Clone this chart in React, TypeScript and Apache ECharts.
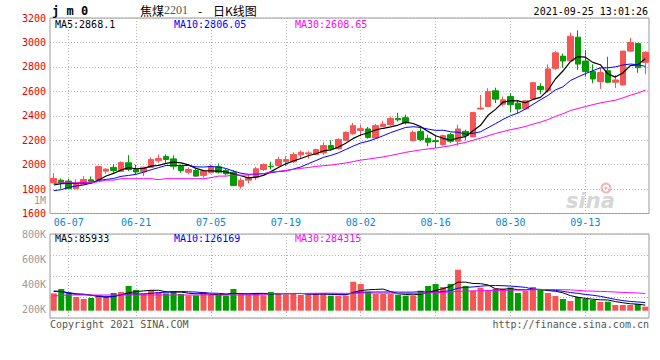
import React, { useEffect, useRef } from 'react';
import * as echarts from 'echarts';

const dates = [
  '06-03', '06-04', '06-07', '06-08', '06-09', '06-10', '06-11', '06-15', '06-16', '06-17',
  '06-18', '06-21', '06-22', '06-23', '06-24', '06-25', '06-28', '06-29', '06-30', '07-01',
  '07-02', '07-05', '07-06', '07-07', '07-08', '07-09', '07-12', '07-13', '07-14', '07-15',
  '07-16', '07-19', '07-20', '07-21', '07-22', '07-23', '07-26', '07-27', '07-28', '07-29',
  '07-30', '08-02', '08-03', '08-04', '08-05', '08-06', '08-09', '08-10', '08-11', '08-12',
  '08-13', '08-16', '08-17', '08-18', '08-19', '08-20', '08-23', '08-24', '08-25', '08-26',
  '08-27', '08-30', '08-31', '09-01', '09-02', '09-03', '09-06', '09-07', '09-08', '09-09',
  '09-10', '09-13', '09-14', '09-15', '09-16', '09-17', '09-22', '09-23', '09-24', '09-27',
];

const opens = [
  1852, 1873, 1865, 1803, 1838, 1876, 1879, 1947, 1977, 1944,
  2015, 1960, 1940, 1977, 2031, 2066, 2047, 1987, 1938, 1952,
  1912, 1934, 1982, 1952, 1938, 1824, 1873, 1893, 1960, 1987,
  1993, 2026, 2023, 2080, 2088, 2083, 2096, 2156, 2131, 2199,
  2253, 2280, 2292, 2218, 2313, 2327, 2378, 2384, 2196, 2272,
  2215, 2196, 2164, 2245, 2191, 2272, 2227, 2455, 2476, 2604,
  2495, 2557, 2503, 2457, 2538, 2639, 2606, 2788, 2888, 2850,
  3043, 2848, 2761, 2679, 2769, 2674, 2652, 2929, 2992, 2837,
];
const closes = [
  1887, 1849, 1803, 1844, 1879, 1863, 1985, 1963, 1952, 2017,
  1960, 1940, 1979, 2042, 2050, 2042, 1987, 1952, 1960, 1906,
  1947, 1982, 1938, 1925, 1830, 1871, 1893, 1966, 2001, 1982,
  2042, 2042, 2083, 2101, 2096, 2123, 2156, 2129, 2205, 2264,
  2319, 2294, 2223, 2319, 2332, 2378, 2367, 2341, 2264, 2205,
  2183, 2188, 2237, 2191, 2292, 2237, 2427, 2463, 2598, 2536,
  2530, 2490, 2455, 2522, 2671, 2614, 2783, 2915, 2848, 3051,
  2823, 2761, 2701, 2753, 2674, 2693, 2929, 3000, 2793, 2919,
];
const lows = [
  1848, 1803, 1800, 1800, 1836, 1852, 1876, 1925, 1933, 1940,
  1947, 1922, 1906, 1975, 2015, 2017, 1960, 1933, 1920, 1900,
  1893, 1930, 1928, 1912, 1830, 1803, 1846, 1873, 1947, 1960,
  1982, 1987, 2015, 2050, 2050, 2077, 2080, 2115, 2123, 2191,
  2245, 2232, 2213, 2213, 2313, 2319, 2354, 2327, 2191, 2191,
  2150, 2137, 2156, 2178, 2156, 2199, 2227, 2449, 2471, 2503,
  2476, 2427, 2422, 2449, 2530, 2577, 2590, 2775, 2793, 2842,
  2774, 2720, 2666, 2620, 2666, 2626, 2647, 2923, 2752, 2739,
];
const highs = [
  1930, 1887, 1885, 1881, 1906, 1903, 1990, 1971, 2004, 2026,
  2077, 1999, 1985, 2058, 2083, 2083, 2077, 2001, 1977, 1966,
  1955, 2001, 2009, 1966, 1955, 1893, 1920, 1982, 2009, 2023,
  2064, 2069, 2101, 2115, 2109, 2131, 2183, 2199, 2215, 2272,
  2341, 2327, 2308, 2332, 2359, 2394, 2424, 2408, 2278, 2305,
  2245, 2245, 2245, 2259, 2327, 2286, 2430, 2571, 2626, 2630,
  2557, 2585, 2530, 2530, 2677, 2666, 2821, 2929, 2910, 3081,
  3100, 2937, 2821, 2793, 2883, 2734, 2929, 3037, 2994, 2929,
];
const volumes = [
  277000, 347000, 288000, 219000, 187000, 203000, 251000, 219000, 283000, 299000,
  395000, 331000, 277000, 331000, 299000, 277000, 315000, 267000, 245000, 245000,
  299000, 251000, 251000, 240000, 347000, 261000, 251000, 283000, 245000, 299000,
  283000, 261000, 283000, 251000, 261000, 267000, 283000, 240000, 240000, 240000,
  464000, 427000, 304000, 267000, 267000, 267000, 256000, 240000, 240000, 320000,
  395000, 427000, 379000, 427000, 656000, 395000, 320000, 368000, 320000, 352000,
  352000, 373000, 283000, 315000, 379000, 347000, 283000, 235000, 187000, 155000,
  219000, 187000, 171000, 139000, 144000, 91000, 91000, 91000, 107000, 64000,
];

// moving-average values before enough candles are on screen
const priceMa5Lead = [1833, 1844, 1846, 1846];
const priceMa10Lead = [1787, 1795, 1814, 1825, 1833, 1849, 1871, 1879, 1887];
const priceMa30Lead = [
  1844, 1852, 1852, 1852, 1852, 1852, 1860, 1873, 1873, 1885,
  1885, 1885, 1885, 1885, 1877, 1885, 1885, 1885, 1885, 1885,
  1885, 1893, 1906, 1906, 1914, 1914, 1914, 1925, 1925,
];
const volMa5Lead = [309000, 309000, 283000, 261000];
const volMa10Lead = [315000, 304000, 288000, 272000, 261000, 245000, 232000, 229000, 229000];
const volMa30Lead = [
  235000, 245000, 251000, 251000, 251000, 251000, 251000, 251000, 251000, 251000,
  251000, 251000, 251000, 251000, 251000, 251000, 251000, 251000, 251000, 251000,
  251000, 251000, 251000, 251000, 251000, 251000, 251000, 251000, 251000,
];

const tickDates = ['06-07', '06-21', '07-05', '07-19', '08-02', '08-16', '08-30', '09-13'];
const priceLegend = ['MA5:2868.1', 'MA10:2806.05', 'MA30:2608.65'];
const volumeLegend = ['MA5:85933', 'MA10:126169', 'MA30:284315'];
const volumeTickLabels = [200000, 400000, 600000, 800000];
const headerTime = '2021-09-25 13:01:26';
const titleParts = ['焦煤', '2201', '-', '日K线图'];

const RED = '#f65555';
const GREEN = '#009c00';
const MONO = '"DejaVu Sans Mono", "Liberation Mono", monospace';
const CJK = '"Noto Sans CJK SC", sans-serif';
const GRIDLINE = { color: '#b4b4b4', type: [1, 2] as any, width: 1 };

function movingAverage(values: number[], lead: number[], n: number): number[] {
  return values.map((_, i) => {
    if (i < lead.length) return lead[i];
    let s = 0;
    for (let k = i - n + 1; k <= i; k++) s += values[k];
    return Math.round((s / n) * 100) / 100;
  });
}

export default function App() {
  const ref = useRef<HTMLDivElement>(null);

  useEffect(() => {
    const chart = echarts.init(ref.current!, null, { renderer: 'svg' });
    const isTick = (_i: number, v: string) => tickDates.indexOf(v) >= 0;

    const candleData = dates.map((_, i) => [opens[i], closes[i], lows[i], highs[i]]);
    const volData = volumes.map((v, i) => ({
      value: v,
      itemStyle: { color: closes[i] >= opens[i] ? RED : GREEN },
    }));

    const lineSeries = (name: string, data: number[], color: string, ax: number, width = 1) => ({
      name,
      type: 'line',
      xAxisIndex: ax,
      yAxisIndex: ax,
      data,
      symbol: 'none',
      silent: true,
      lineStyle: { color, width },
      z: 5,
    });

    const legendTexts = (labels: string[], y: number) =>
      labels.map((t, i) => ({
        type: 'text',
        x: [55, 174, 295][i],
        y,
        silent: true,
        style: {
          text: t,
          font: `10px ${MONO}`,
          fill: ['#000000', '#0000ff', '#ff00ff'][i],
          verticalAlign: 'middle',
        },
      }));

    const titleTexts = titleParts.map((t, i) => ({
      type: 'text',
      x: [140, 164, 198, 213][i],
      y: 10,
      silent: true,
      style: {
        text: t,
        font: i === 1 ? '12px "Liberation Serif", "DejaVu Serif", serif' : `12px ${CJK}`,
        fill: i === 1 ? '#555' : '#000',
        verticalAlign: 'middle',
      },
    }));

    const option: any = {
      animation: false,
      backgroundColor: '#ffffff',
      grid: [
        { left: 50, top: 18, width: 599, height: 195.5, show: true, borderColor: '#9a9a9a', borderWidth: 1, backgroundColor: 'transparent' },
        { left: 50, top: 234, width: 599, height: 84, show: true, borderColor: '#9a9a9a', borderWidth: 1, backgroundColor: 'transparent' },
      ],
      xAxis: [
        {
          type: 'category', gridIndex: 0, data: dates, boundaryGap: true,
          axisLine: { show: false }, axisTick: { show: false },
          axisLabel: { interval: isTick, color: '#0a86d6', fontFamily: MONO, fontSize: 10, margin: 4 },
          splitLine: { show: true, interval: isTick, alignWithLabel: true, lineStyle: GRIDLINE },
        },
        {
          type: 'category', gridIndex: 1, data: dates, boundaryGap: true,
          axisLine: { show: false },
          axisTick: { show: true, interval: isTick, alignWithLabel: true, length: 3, lineStyle: GRIDLINE },
          axisLabel: { show: false },
          splitLine: { show: true, interval: isTick, alignWithLabel: true, lineStyle: GRIDLINE },
        },
      ],
      yAxis: [
        {
          type: 'value', gridIndex: 0, min: 1600, max: 3200, interval: 200,
          axisLine: { show: false }, axisTick: { show: false },
          axisLabel: { color: '#ee0000', fontFamily: MONO, fontSize: 10, margin: 4, formatter: (v: number) => String(v) },
          splitLine: { show: true, lineStyle: GRIDLINE },
        },
        {
          type: 'value', gridIndex: 1, min: -116800, max: 1227200, interval: 336000,
          axisLine: { show: false }, axisTick: { show: false }, axisLabel: { show: false },
          splitLine: { show: true, lineStyle: GRIDLINE },
        },
        {
          type: 'value', gridIndex: 1, min: 136000, max: 800000, splitNumber: 3, position: 'left',
          axisLine: { show: false }, axisTick: { show: false }, splitLine: { show: false },
          axisLabel: {
            color: '#9a9a9a', fontFamily: MONO, fontSize: 10, margin: 4,
            showMinLabel: false,
            formatter: (v: number) => (volumeTickLabels.indexOf(v) >= 0 ? `${v / 1000}K` : ''),
          },
        },
      ],
      series: [
        {
          name: 'K', type: 'candlestick', xAxisIndex: 0, yAxisIndex: 0, data: candleData,
          barWidth: 6,
          itemStyle: { color: RED, color0: GREEN, borderColor: RED, borderColor0: GREEN, borderWidth: 1 },
          z: 3,
        },
        lineSeries('MA5', movingAverage(closes, priceMa5Lead, 5), '#000000', 0, 1.2),
        lineSeries('MA10', movingAverage(closes, priceMa10Lead, 10), '#0000ff', 0),
        lineSeries('MA30', movingAverage(closes, priceMa30Lead, 30), '#ff00ff', 0),
        {
          name: 'VOL', type: 'bar', xAxisIndex: 1, yAxisIndex: 1, data: volData, barWidth: 6, z: 3,
        },
        lineSeries('VMA5', movingAverage(volumes, volMa5Lead, 5), '#000000', 1),
        lineSeries('VMA10', movingAverage(volumes, volMa10Lead, 10), '#0000ff', 1),
        lineSeries('VMA30', movingAverage(volumes, volMa30Lead, 30), '#ff00ff', 1),
      ],
      graphic: [
        {
          type: 'text', x: 52, y: 11, silent: true,
          style: { text: 'j m 0', font: `bold 12px ${MONO}`, fill: '#000', verticalAlign: 'middle' },
        },
        ...titleTexts,
        {
          type: 'text', x: 648, y: 11.5, silent: true,
          style: { text: headerTime, font: `10px ${MONO}`, fill: '#000', align: 'right', verticalAlign: 'middle' },
        },
        {
          type: 'text', x: 46, y: 200, silent: true,
          style: { text: '1M', font: `10px ${MONO}`, fill: '#9a9a9a', align: 'right', verticalAlign: 'middle' },
        },
        ...legendTexts(priceLegend, 24.3),
        ...legendTexts(volumeLegend, 238.3),
        {
          type: 'circle', silent: true, shape: { cx: 606, cy: 188, r: 4.5 },
          style: { fill: 'none', stroke: '#f2b3b3', lineWidth: 2 },
        },
        {
          type: 'circle', silent: true, shape: { cx: 606, cy: 188, r: 1.5 },
          style: { fill: '#f2b3b3' },
        },
        {
          type: 'text', x: 566, y: 201, silent: true,
          style: { text: 'sina', font: 'italic bold 21px "DejaVu Sans"', fill: '#d6d6d6', verticalAlign: 'middle' },
        },
        {
          type: 'text', x: 50, y: 324, silent: true,
          style: { text: 'Copyright 2021 SINA.COM', font: `10px ${MONO}`, fill: '#555', verticalAlign: 'middle' },
        },
        {
          type: 'text', x: 649, y: 324, silent: true,
          style: { text: 'http://finance.sina.com.cn', font: `10px ${MONO}`, fill: '#555', align: 'right', verticalAlign: 'middle' },
        },
      ],
    };

    chart.setOption(option);
    return () => chart.dispose();
  }, []);

  return (
    <div
      ref={ref}
      style={{ position: 'fixed', left: 0, top: 0, width: 660, height: 360, background: '#fff' }}
    />
  );
}
